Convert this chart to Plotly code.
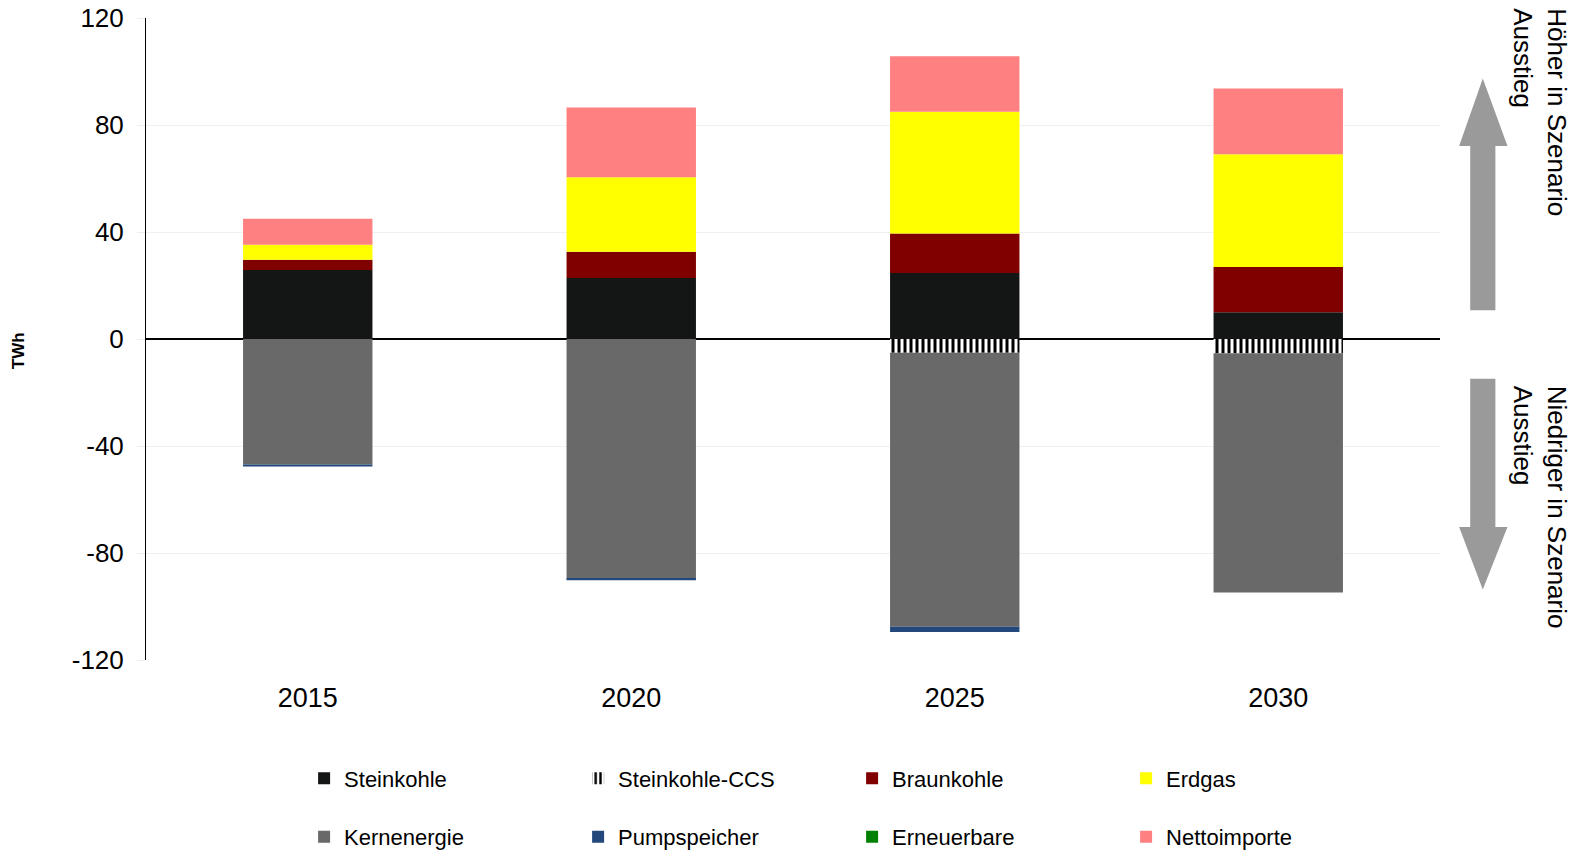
import plotly.graph_objects as go

years = ["2015", "2020", "2025", "2030"]
steinkohle = [25.8, 22.8, 24.7, 10.0]
steinkohle_ccs = [0.0, 0.0, -5.1, -5.3]
braunkohle = [3.8, 9.8, 14.7, 16.9]
erdgas = [5.6, 27.9, 45.6, 42.2]
kernenergie = [-46.9, -89.5, -102.5, -89.5]
pumpspeicher = [-0.8, -0.7, -1.9, 0.0]
erneuerbare = [0.0, 0.0, 0.0, 0.0]
nettoimporte = [9.8, 26.0, 20.7, 24.5]

y_ticks = [-120, -80, -40, 0, 40, 80, 120]
y_ticktext = ["-120", "-80", "-40", "0", "40", "80", "120"]

FONT = "Liberation Sans, Arial, sans-serif"

series = [
    ("Steinkohle", steinkohle, "#141616", None, "legend"),
    ("Steinkohle-CCS", steinkohle_ccs, "#ffffff", "|", "legend"),
    ("Braunkohle", braunkohle, "#800000", None, "legend"),
    ("Erdgas", erdgas, "#ffff00", None, "legend"),
    ("Kernenergie", kernenergie, "#696969", None, "legend2"),
    ("Pumpspeicher", pumpspeicher, "#23497c", None, "legend2"),
    ("Erneuerbare", erneuerbare, "#008000", None, "legend2"),
    ("Nettoimporte", nettoimporte, "#ff8080", None, "legend2"),
]

W, H = 1580, 850
OFF, SC = 8, 0.993  # page body margin and observed photo scale

def fx(s):  # screen px -> figure px
    return s / SC - OFF

PL, PR, PT, PB = fx(145), fx(1430), fx(18), fx(655)
PW, PH = PR - PL, PB - PT

def xp(s):  # screen px -> paper x
    return (fx(s) - PL) / PW

def yp(s):  # screen px -> paper y
    return (PB - fx(s)) / PH

def yc(s):  # screen px -> container y
    return 1 - fx(s) / H

fig = go.Figure()
for name, vals, color, pat, leg in series:
    marker = dict(color=color, line=dict(width=0))
    if pat:
        marker["pattern"] = dict(shape=pat, fgcolor="#000000", bgcolor="#ffffff",
                                 size=6, solidity=0.5, fillmode="replace")
    fig.add_trace(go.Bar(x=years, y=vals, name=name, marker=marker, legend=leg))

legend_common = dict(
    orientation="h", xanchor="left", yanchor="middle", x=xp(302),
    xref="paper", yref="container",
    font=dict(family=FONT, size=22, color="#000000"),
    entrywidth=229, entrywidthmode="pixels", bgcolor="rgba(0,0,0,0)",
    traceorder="normal",
)

fig.update_layout(
    width=W, height=H,
    margin=dict(l=PL, r=W - PR, t=PT, b=H - PB, autoexpand=False),
    paper_bgcolor="#ffffff", plot_bgcolor="#ffffff",
    barmode="relative", bargap=0.6,
    font=dict(family=FONT, size=26, color="#000000"),
    legend=dict(legend_common, y=yc(773)),
    legend2=dict(legend_common, y=yc(831)),
    xaxis=dict(type="category", range=[-0.5, 3.5], showline=False, ticks="",
               tickfont=dict(size=27), ticklabelstandoff=19, showgrid=False,
               automargin=False),
    yaxis=dict(range=[-120, 120], tickvals=y_ticks, ticktext=y_ticktext,
               showgrid=True, gridcolor="#f0f0f0", gridwidth=1, zeroline=True,
               zerolinecolor="#000000", zerolinewidth=1.5,
               showline=True, linecolor="#000000", linewidth=1,
               ticks="outside", ticklen=8, tickcolor="#eeeeee",
               ticklabelstandoff=8, tickfont=dict(size=26), automargin=False,
               ticklabeloverflow="allow"),
)

fig.add_annotation(text="<b>TWh</b>", textangle=-90, xref="paper", yref="paper",
                   x=xp(18.5), y=yp(348), xanchor="center", yanchor="middle",
                   showarrow=False, font=dict(family=FONT, size=17, color="#000000"))

# Right-side explanation arrows (decorations)
up = (f"M {xp(1460)} {yp(308)} L {xp(1460)} {yp(145)} L {xp(1449)} {yp(145)} "
      f"L {xp(1472.5)} {yp(78)} L {xp(1497)} {yp(145)} L {xp(1485)} {yp(145)} "
      f"L {xp(1485)} {yp(308)} Z")
down = (f"M {xp(1460)} {yp(376)} L {xp(1460)} {yp(523)} L {xp(1449)} {yp(523)} "
        f"L {xp(1472.5)} {yp(585)} L {xp(1497)} {yp(523)} L {xp(1485)} {yp(523)} "
        f"L {xp(1485)} {yp(376)} Z")
for p in (up, down):
    fig.add_shape(type="path", path=p, xref="paper", yref="paper",
                  fillcolor="#9a9a9a", line=dict(width=0), layer="above")

fig.add_annotation(text="Höher in Szenario<br>Ausstieg", textangle=90, align="left",
                   xref="paper", yref="paper", x=xp(1529), y=yp(6),
                   xanchor="center", yanchor="top", showarrow=False,
                   font=dict(family=FONT, size=26, color="#000000"))
fig.add_annotation(text="Niedriger in Szenario<br>Ausstieg", textangle=90, align="left",
                   xref="paper", yref="paper", x=xp(1529), y=yp(381),
                   xanchor="center", yanchor="top", showarrow=False,
                   font=dict(family=FONT, size=26, color="#000000"))

fig.write_html("out.html")
